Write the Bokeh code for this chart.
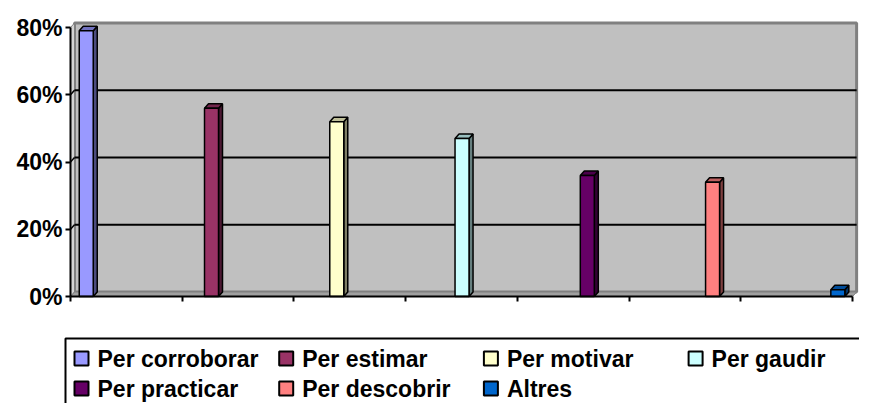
import numpy as np
from bokeh.plotting import figure
from bokeh.models import (Range1d, FixedTicker, ColumnDataSource, PrintfTickFormatter,
                          CustomJSTickFormatter)
from bokeh.core.properties import value
from bokeh.embed import file_html
from bokeh.resources import INLINE

# ---- data ----
series = ["Per corroborar", "Per estimar", "Per motivar", "Per gaudir",
          "Per practicar", "Per descobrir", "Altres"]
values = [79, 56, 52, 47, 36, 34, 2]
colors = ["#9999FF", "#993366", "#FFFFCC", "#CCFFFF", "#660066", "#FF8080", "#0066CC"]
y_ticks = [0, 20, 40, 60, 80]

# ---- layout constants (pixels) ----
W, H = 859, 403
AX_LEFT_PX, AX_RIGHT_PX = 70, 858     # left axis line / right edge of back wall
Y0_PX, Y80_PX = 296, 27              # pixel rows of 0% and 80%
FONT = "Liberation Sans"
Y_MAX = y_ticks[-1]
X_LO, X_HI, X_END = -0.1257, 6.118, 6.165   # in bar-index units

px_per_x = (AX_RIGHT_PX - AX_LEFT_PX) / (X_END - X_LO)
px_per_y = (Y0_PX - Y80_PX) / Y_MAX
x_start = X_LO - AX_LEFT_PX / px_per_x
x_end = x_start + W / px_per_x
y_end = Y_MAX + Y80_PX / px_per_y
y_start = y_end - H / px_per_y


def px_x(px):
    return x_start + px / px_per_x


def px_y(py):
    return y_end - py / px_per_y


DX = 4.0 / px_per_x
DY = 4.5 / px_per_y
BAR_W = 14.0 / px_per_x


def shade(hexc, f):
    h = hexc.lstrip("#")
    r, g, b = (int(h[i:i + 2], 16) for i in (0, 2, 4))
    return "#%02x%02x%02x" % (int(r * f), int(g * f), int(b * f))


p = figure(width=W, height=H, output_backend="svg", toolbar_location=None,
           x_range=Range1d(x_start, x_end), y_range=Range1d(y_start, y_end),
           min_border=0, tools="")
p.outline_line_color = None
p.xgrid.visible = False
p.ygrid.visible = False

# back wall, left wall, floor
p.quad(left=[X_LO + DX], right=[X_HI + DX], bottom=[DY], top=[Y_MAX + DY],
       fill_color="#C0C0C0", line_color="#808080", line_width=3)
p.patch([X_LO, X_LO, X_LO + DX, X_LO + DX], [0, Y_MAX, Y_MAX + DY, DY],
        fill_color="#D4D4D4", line_color="#808080", line_width=1)
p.patch([X_LO, X_HI, X_HI + DX, X_LO + DX], [0, 0, DY, DY],
        fill_color="#A0A0A0", line_color="#808080", line_width=1)

# gridlines on back wall
gy = [t for t in y_ticks if 0 < t < Y_MAX]
p.segment(x0=[X_LO + DX] * len(gy), x1=[X_HI + DX] * len(gy),
          y0=[t + DY for t in gy], y1=[t + DY for t in gy],
          line_color="black", line_width=2)
p.segment(x0=[X_LO] * len(gy), x1=[X_LO + DX] * len(gy),
          y0=gy, y1=[t + DY for t in gy], line_color="black", line_width=1.5)

# bars (3D: side, top, front)
xs = np.arange(len(values), dtype=float)
side_xs, side_ys, top_xs, top_ys = [], [], [], []
for x, v in zip(xs, values):
    x0, x1 = x - BAR_W / 2, x + BAR_W / 2
    side_xs.append([x1, x1, x1 + DX, x1 + DX])
    side_ys.append([0, v, v + DY, DY])
    top_xs.append([x0, x1, x1 + DX, x0 + DX])
    top_ys.append([v, v, v + DY, v + DY])

p.patches(side_xs, side_ys, fill_color=[shade(c, 0.5) for c in colors],
          line_color="black", line_width=1.5)
p.patches(top_xs, top_ys, fill_color=[shade(c, 0.75) for c in colors],
          line_color="black", line_width=1.5)
src = ColumnDataSource(dict(x=xs, top=values, color=colors))
p.vbar(x="x", top="top", bottom=0, width=BAR_W, fill_color="color",
       line_color="black", line_width=1.5, source=src)

# axes (anchored inside the frame)
ya = p.yaxis[0]
ya.fixed_location = X_LO
ya.ticker = FixedTicker(ticks=y_ticks)
ya.formatter = PrintfTickFormatter(format="%d%%")
ya.bounds = (0, Y_MAX)
ya.axis_line_width = 2
ya.axis_line_color = "black"
ya.major_tick_in = 0
ya.major_tick_out = 5
ya.major_tick_line_width = 2
ya.minor_tick_line_color = None
ya.major_label_standoff = 3
ya.major_label_text_font = FONT
ya.major_label_text_font_style = "bold"
ya.major_label_text_font_size = "23px"
ya.major_label_text_color = "black"

xa = p.xaxis[0]
xa.fixed_location = 0
xa.ticker = FixedTicker(ticks=list(np.linspace(X_LO, X_HI, len(values) + 1)))
xa.formatter = CustomJSTickFormatter(code="return ''")
xa.bounds = (X_LO, X_HI)
xa.axis_line_width = 2
xa.axis_line_color = "black"
xa.major_tick_in = 0
xa.major_tick_out = 5
xa.major_tick_line_width = 2
xa.minor_tick_line_color = None

# ---- legend (laid out in pixels, converted through the scales) ----
NCOL = 4
COL_PITCH = 204.7
ROW_PITCH = 30
BOX_LEFT, BOX_TOP = 65, 338
SW_X0, ROW_Y0 = 81, 358
TXT_X0 = 97
p.quad(left=[px_x(BOX_LEFT)], right=[px_x(W + 20)], top=[px_y(BOX_TOP)],
       bottom=[px_y(H + 20)], fill_color="white", line_color="black", line_width=2)
cols = [i % NCOL for i in range(len(series))]
rows = [i // NCOL for i in range(len(series))]
lsrc = ColumnDataSource(dict(
    sx=[px_x(SW_X0 + c * COL_PITCH) for c in cols],
    tx=[px_x(TXT_X0 + c * COL_PITCH) for c in cols],
    y=[px_y(ROW_Y0 + r * ROW_PITCH) for r in rows],
    color=colors, label=series))
p.rect(x="sx", y="y", width=14, height=14, width_units="screen", height_units="screen",
       fill_color="color", line_color="black", line_width=2, source=lsrc)
p.text(x="tx", y="y", text="label", source=lsrc, text_font=value(FONT),
       text_font_style="bold", text_font_size="23px", text_color="black",
       text_baseline="middle", text_align="left")

open("out.html", "w").write(file_html(p, INLINE))
